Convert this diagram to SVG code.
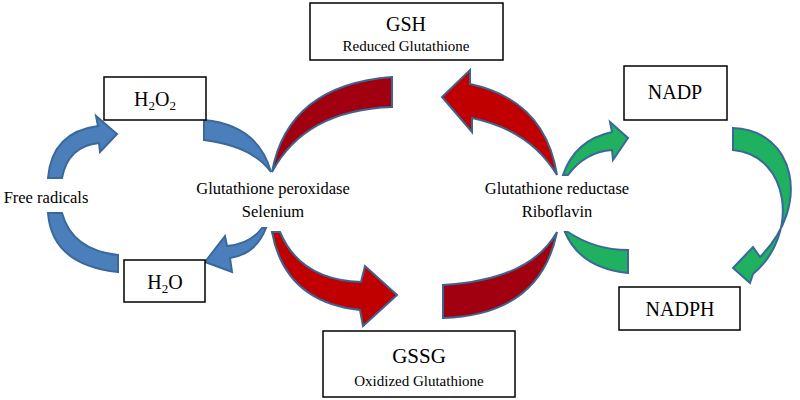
<svg xmlns="http://www.w3.org/2000/svg" width="800" height="400" viewBox="0 0 800 400">
<style>
.box{fill:#fff;stroke:#000;stroke-width:1.5}
.t{font-family:"Liberation Serif",serif;fill:#000;text-anchor:middle}
.blue{fill:#4a7fbc;stroke:#3a6899;stroke-width:2}
.red{fill:#c00000;stroke:#3d6490;stroke-width:2}
.dred{fill:#a00010;stroke:#3d6490;stroke-width:2}
.green{fill:#1fb060;stroke:#3a6899;stroke-width:2}
</style>
<rect width="800" height="400" fill="#fff"/>
<g id="connectors">
<path class="blue" d="M48,178 Q52,132 98,126 L96,116 L117,134 L100,152 L99,143 Q68,146 62,178 Z"/>
<path class="blue" d="M48,213 Q52,265 118,272 L118,255 Q72,250 62,213 Z"/>
<path class="blue" d="M204,120 Q258,125 271,172 Q252,146 204,140 Z"/>
<path class="blue" d="M266,228 Q256,254 230,258 L232,272 L205,262 L225,236 L227,246 Q250,244 262,228 Z"/>
<path class="dred" d="M392,77 Q288,85 272,172 Q305,110 392,107 Z"/>
<path class="red" d="M272,232 Q285,302 360,310 L363,326 L397,295 L365,266 L361,282 Q300,280 280,232 Z"/>
<path class="red" d="M557,175 Q545,100 470,84 L470,70 L442,97 L472,132 L472,118 Q530,130 557,175 Z"/>
<path class="dred" d="M443,285 Q530,280 557,232 Q540,315 443,318 Z"/>
<path class="green" d="M563,175 Q575,140 612,132 L610,122 L628,138 L613,160 L612,150 Q585,152 568,175 Z"/>
<path class="green" d="M565,232 Q580,268 628,273 L628,250 Q595,250 568,232 Z"/>
<path class="green" d="M733,128 C795,130 812,205 760,257 L753,247 L733,268 L750,283 L753,274 C800,235 790,155 733,150 Z"/>
</g>
<g id="gsh"><rect class="box" x="310" y="3" width="193" height="57"/>
<text class="t" x="406" y="31" font-size="20">GSH</text><text class="t" x="406" y="51" font-size="15">Reduced Glutathione</text></g>
<g id="gssg"><rect class="box" x="323" y="331" width="192" height="66"/>
<text class="t" x="419" y="363" font-size="21">GSSG</text><text class="t" x="419" y="386" font-size="15">Oxidized Glutathione</text></g>
<g id="h2o2"><rect class="box" x="104" y="77" width="102" height="43"/>
<text class="t" x="155" y="106" font-size="20">H<tspan font-size="13" dy="4">2</tspan><tspan dy="-4">O</tspan><tspan font-size="13" dy="4">2</tspan></text></g>
<g id="h2o"><rect class="box" x="124" y="260" width="81" height="42"/>
<text class="t" x="165" y="289" font-size="20">H<tspan font-size="13" dy="4">2</tspan><tspan dy="-4">O</tspan></text></g>
<g id="nadp"><rect class="box" x="624" y="66" width="103" height="54"/>
<text class="t" x="675" y="99" font-size="20">NADP</text></g>
<g id="nadph"><rect class="box" x="619" y="287" width="121" height="43"/>
<text class="t" x="680" y="316" font-size="20">NADPH</text></g>
<g id="free-radicals"><text class="t" x="46" y="203" font-size="16.5">Free radicals</text></g>
<g id="gpx"><text class="t" x="273" y="194" font-size="16.5">Glutathione peroxidase</text><text class="t" x="273" y="217" font-size="16.5">Selenium</text></g>
<g id="gr"><text class="t" x="557" y="194" font-size="16.5">Glutathione reductase</text><text class="t" x="557" y="217" font-size="16.5">Riboflavin</text></g>
</svg>
